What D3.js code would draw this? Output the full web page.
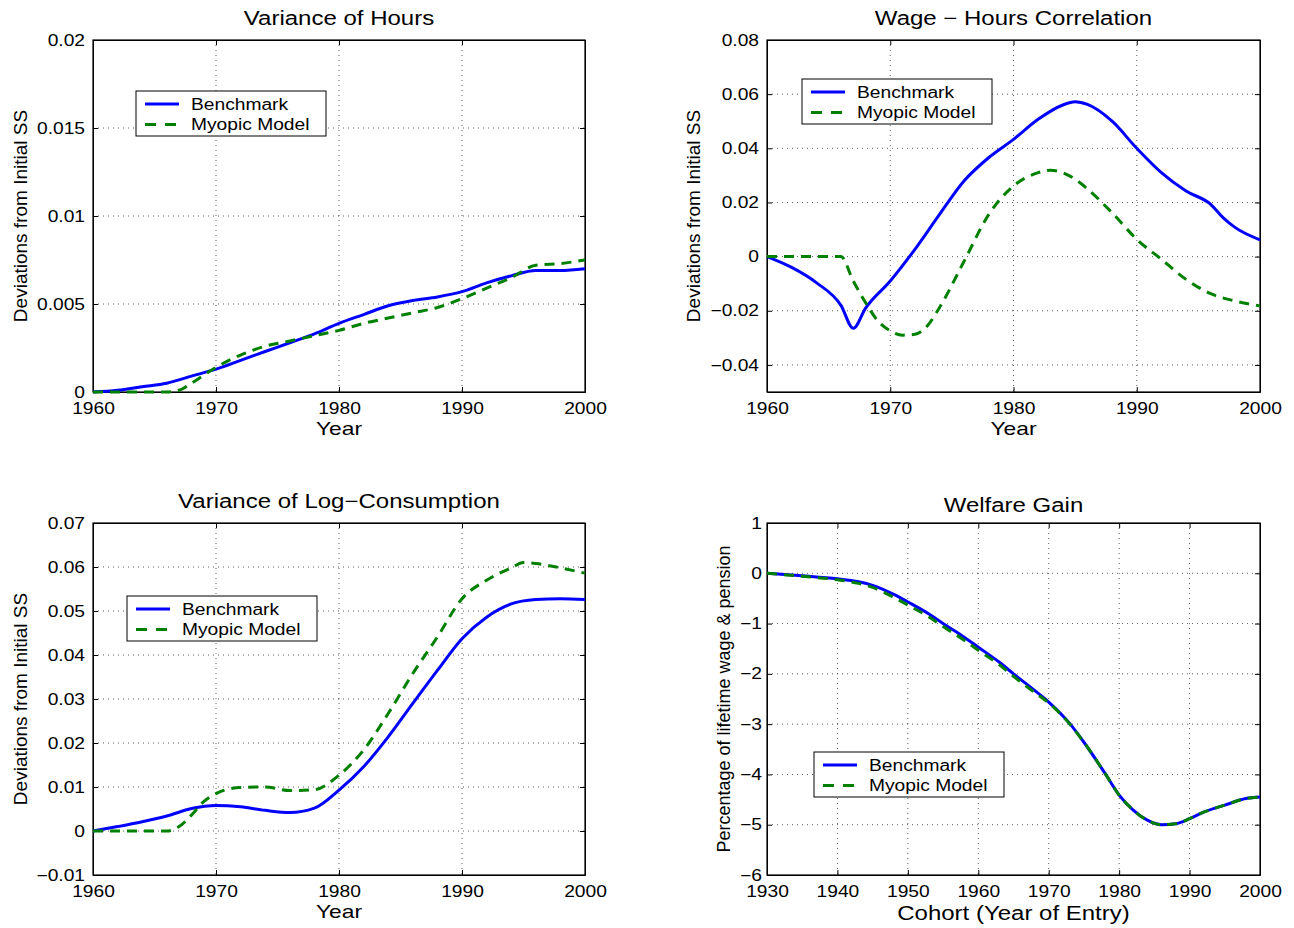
<!DOCTYPE html>
<html>
<head>
<meta charset="utf-8">
<script src="https://cdn.jsdelivr.net/npm/d3@7"></script>
<style>
  body { margin: 0; background: #fff; }
  svg { font-family: "Liberation Sans", Arial, Helvetica, sans-serif; }
  .grid line { stroke: #000; stroke-width: 0.8; stroke-dasharray: 1,4; opacity: 0.8; }
</style>
</head>
<body>
<div id="chart-area"></div>
<script>
// ---- data ----
const hoursYears   = [1960,1962,1964,1966,1968,1970,1972,1974,1976,1978,1980,1982,1984,1986,1988,1990,1992,1994,1996,1998,2000];
const hoursBench   = [0,0.0001,0.0003,0.0005,0.0009,0.0013,0.0018,0.0023,0.0028,0.0033,0.0039,0.0044,0.0049,0.0052,0.0054,0.0057,0.0062,0.0066,0.0069,0.0069,0.0070];
const hoursMyopicYears = [1960,1962,1964,1966,1967,1968,1970,1972,1974,1976,1978,1980,1982,1984,1986,1988,1990,1992,1994,1996,1998,2000];
const hoursMyopic  = [0,0,0,0,0.0001,0.0005,0.0014,0.0021,0.0026,0.0029,0.0032,0.0035,0.0039,0.0042,0.0045,0.0048,0.0053,0.0059,0.0065,0.0072,0.0073,0.0075];

const corrBenchYears = [1960,1962,1964,1966,1967,1968,1970,1972,1974,1976,1978,1980,1982,1984,1985,1986,1988,1990,1992,1994,1996,1997,1998,2000];
const corrBench    = [0,-0.004,-0.0096,-0.018,-0.0265,-0.019,-0.009,0.0027,0.0156,0.028,0.0366,0.0433,0.0507,0.056,0.0572,0.0562,0.050,0.040,0.031,0.0242,0.0193,0.0144,0.0107,0.0062];
const corrMyopicYears = [1960,1962,1964,1966,1967,1968,1969,1970,1971,1972,1973,1974,1976,1978,1980,1982,1983,1985,1986,1988,1990,1992,1994,1996,1998,2000];
const corrMyopic   = [0,0,0,0,-0.009,-0.017,-0.0238,-0.0274,-0.029,-0.0287,-0.0256,-0.0188,-0.0016,0.0156,0.0261,0.031,0.0319,0.0286,0.025,0.0162,0.0064,-0.001,-0.0084,-0.0137,-0.0164,-0.0182];

const consYears    = [1960,1962,1964,1966,1968,1970,1972,1974,1976,1978,1980,1982,1984,1986,1988,1990,1992,1994,1996,1998,2000];
const consBench    = [0,0.001,0.0021,0.0034,0.0051,0.0058,0.0055,0.0047,0.0042,0.0052,0.0093,0.0146,0.0214,0.029,0.0365,0.0437,0.0486,0.0516,0.0526,0.0528,0.0526];
const consMyopicYears = [1960,1962,1964,1966,1967,1968,1969,1970,1972,1974,1976,1978,1980,1982,1984,1986,1988,1990,1992,1994,1995,1996,1998,2000];
const consMyopic   = [0,0,0,0,0.001,0.0036,0.0067,0.0085,0.0099,0.010,0.0092,0.0094,0.0127,0.0184,0.0267,0.0358,0.0441,0.0528,0.057,0.0598,0.061,0.0608,0.0598,0.0586];

const cohorts      = [1930,1935,1940,1943,1945,1948,1950,1953,1955,1958,1960,1963,1965,1968,1970,1973,1975,1978,1980,1982,1984,1986,1988,1990,1992,1995,1998,2000];
const welfareBench = [0,-0.05,-0.11,-0.17,-0.24,-0.42,-0.57,-0.81,-1.0,-1.27,-1.47,-1.77,-2.0,-2.33,-2.56,-2.99,-3.36,-3.98,-4.41,-4.71,-4.91,-5.0,-4.98,-4.88,-4.75,-4.61,-4.48,-4.45];
const welfareMyopic= [0,-0.06,-0.13,-0.2,-0.28,-0.48,-0.63,-0.87,-1.06,-1.33,-1.53,-1.82,-2.05,-2.37,-2.58,-3.0,-3.36,-3.98,-4.41,-4.71,-4.91,-5.0,-4.98,-4.88,-4.75,-4.61,-4.48,-4.45];

const yearTicks    = [1960,1970,1980,1990,2000];
const cohortTicks  = [1930,1940,1950,1960,1970,1980,1990,2000];
const hoursTicks   = [0,0.005,0.01,0.015,0.02];
const corrTicks    = [-0.04,-0.02,0,0.02,0.04,0.06,0.08];
const consTicks    = [-0.01,0,0.01,0.02,0.03,0.04,0.05,0.06,0.07];
const welfareTicks = [-6,-5,-4,-3,-2,-1,0,1];
const legendNames  = ["Benchmark","Myopic Model"];

const WIDTH = 1294, HEIGHT = 928;
const STRETCH = 1.2; // the reference text is a bit wider than Arial
const svg = d3.select("#chart-area").append("svg")
  .attr("width", WIDTH).attr("height", HEIGHT);

const fmt = d => {
  if (d === 0) return "0";
  let s = String(+d.toFixed(4));
  if (s.startsWith("-")) s = "\u2212" + s.slice(1);
  return s;
};

// draws one subplot
const panel = (cfg) => {
  const g = svg.append("g").attr("transform", `translate(${cfg.left}, ${cfg.top})`);
  const w = cfg.width, h = cfg.height;

  const x = d3.scaleLinear().domain(cfg.xDomain).range([0, w]);
  const y = d3.scaleLinear().domain(cfg.yDomain).range([h, 0]);

  // grid
  const grid = g.append("g").attr("class", "grid");
  grid.selectAll(".gx").data(cfg.xTicks.slice(1, -1)).enter().append("line")
    .attr("x1", d => x(d)).attr("x2", d => x(d)).attr("y1", 0).attr("y2", h);
  grid.selectAll(".gy").data(cfg.yTicks.filter(t => y(t) > 1 && y(t) < h - 1)).enter().append("line")
    .attr("y1", d => y(d)).attr("y2", d => y(d)).attr("x1", 0).attr("x2", w);

  // axes (MATLAB style: inward ticks)
  const xAxis = g.append("g").attr("transform", `translate(0, ${h})`)
    .call(d3.axisBottom(x).tickValues(cfg.xTicks).tickFormat(d3.format("d")).tickSizeInner(-5).tickSizeOuter(0).tickPadding(8));
  const yAxis = g.append("g")
    .call(d3.axisLeft(y).tickValues(cfg.yTicks).tickFormat(fmt).tickSizeInner(-5).tickSizeOuter(0).tickPadding(cfg.yPad));
  g.append("g")
    .call(d3.axisTop(x).tickValues(cfg.xTicks).tickFormat("").tickSizeInner(-5).tickSizeOuter(0));
  g.append("g").attr("transform", `translate(${w}, 0)`)
    .call(d3.axisRight(y).tickValues(cfg.yTicks).tickFormat("").tickSizeInner(-5).tickSizeOuter(0));
  [xAxis, yAxis].forEach(a => a.selectAll("text").attr("font-size", "16px").attr("fill", "#000").classed("wide", true));
  xAxis.selectAll("text").attr("y", 11).attr("dy", "0.71em");
  svg.selectAll(".domain").attr("stroke", "#000");

  g.append("rect").attr("width", w).attr("height", h)
    .attr("fill", "none").attr("stroke", "#000").attr("stroke-width", 1.2);

  // lines
  const mk = (xs, ys) => xs.map((v, i) => [v, ys[i]]);
  const line = d3.line().x(d => x(d[0])).y(d => y(d[1])).curve(d3.curveMonotoneX);
  g.append("path").datum(mk(cfg.benchX, cfg.bench))
    .attr("d", line).attr("fill", "none").attr("stroke", "#0000ff").attr("stroke-width", 3);
  g.append("path").datum(mk(cfg.myopicX, cfg.myopic))
    .attr("d", line).attr("fill", "none").attr("stroke", "#008000").attr("stroke-width", 3)
    .attr("stroke-dasharray", "10,7");

  // title
  g.append("text").attr("class", "wide").attr("x", w / 2).attr("y", cfg.titleY)
    .attr("text-anchor", "middle").attr("font-size", "20px").text(cfg.title);

  // x label
  g.append("text").attr("class", "wide").attr("x", w / 2).attr("y", h + cfg.xLabelY)
    .attr("text-anchor", "middle").attr("font-size", cfg.xLabelSize).text(cfg.xLabel);

  // y label
  g.append("text").attr("transform", `translate(${cfg.yLabelX}, ${h / 2}) rotate(-90)`)
    .attr("text-anchor", "middle").attr("font-size", cfg.yLabelSize).text(cfg.yLabel);

  // legend
  const lg = g.append("g").attr("transform", `translate(${cfg.legend[0]}, ${cfg.legend[1]})`);
  lg.append("rect").attr("width", 190).attr("height", 45)
    .attr("fill", "#fff").attr("stroke", "#000").attr("stroke-width", 1);
  legendNames.forEach((name, i) => {
    const ly = 13 + i * 20.5;
    lg.append("line").attr("x1", 9).attr("x2", 43).attr("y1", ly).attr("y2", ly)
      .attr("stroke", i === 0 ? "#0000ff" : "#008000").attr("stroke-width", 3)
      .attr("stroke-dasharray", i === 0 ? null : "11,9");
    lg.append("text").attr("class", "wide").attr("x", 55).attr("y", ly).attr("dy", "0.36em")
      .attr("font-size", "16px").text(name);
  });
};

panel({ left: 93, top: 40, width: 492, height: 352, xDomain: [1960, 2000], yDomain: [0, 0.02],
  xTicks: yearTicks, yTicks: hoursTicks, yPad: 8, title: "Variance of Hours", titleY: -15,
  xLabel: "Year", xLabelY: 43, xLabelSize: "19px",
  yLabel: "Deviations from Initial SS", yLabelX: -66, yLabelSize: "19px",
  benchX: hoursYears, bench: hoursBench, myopicX: hoursMyopicYears, myopic: hoursMyopic,
  legend: [43, 51] });

panel({ left: 767, top: 40, width: 493, height: 352, xDomain: [1960, 2000], yDomain: [-0.05, 0.08],
  xTicks: yearTicks, yTicks: corrTicks, yPad: 8, title: "Wage \u2212 Hours Correlation", titleY: -15,
  xLabel: "Year", xLabelY: 43, xLabelSize: "19px",
  yLabel: "Deviations from Initial SS", yLabelX: -67, yLabelSize: "19px",
  benchX: corrBenchYears, bench: corrBench, myopicX: corrMyopicYears, myopic: corrMyopic,
  legend: [35, 39] });

panel({ left: 93, top: 523, width: 492, height: 352, xDomain: [1960, 2000], yDomain: [-0.01, 0.07],
  xTicks: yearTicks, yTicks: consTicks, yPad: 8, title: "Variance of Log\u2212Consumption", titleY: -15,
  xLabel: "Year", xLabelY: 43, xLabelSize: "19px",
  yLabel: "Deviations from Initial SS", yLabelX: -66, yLabelSize: "19px",
  benchX: consYears, bench: consBench, myopicX: consMyopicYears, myopic: consMyopic,
  legend: [34, 73] });

panel({ left: 767, top: 523, width: 493, height: 352, xDomain: [1930, 2000], yDomain: [-6, 1],
  xTicks: cohortTicks, yTicks: welfareTicks, yPad: 5, title: "Welfare Gain", titleY: -11,
  xLabel: "Cohort (Year of Entry)", xLabelY: 45, xLabelSize: "20px",
  yLabel: "Percentage of lifetime wage & pension", yLabelX: -37, yLabelSize: "18px",
  benchX: cohorts, bench: welfareBench, myopicX: cohorts, myopic: welfareMyopic,
  legend: [47, 229] });

// widen horizontal text to match the reference's letter shapes
svg.selectAll("text.wide").each(function () {
  const len = this.getComputedTextLength();
  d3.select(this).attr("textLength", len * STRETCH).attr("lengthAdjust", "spacingAndGlyphs");
});
</script>
</body>
</html>
